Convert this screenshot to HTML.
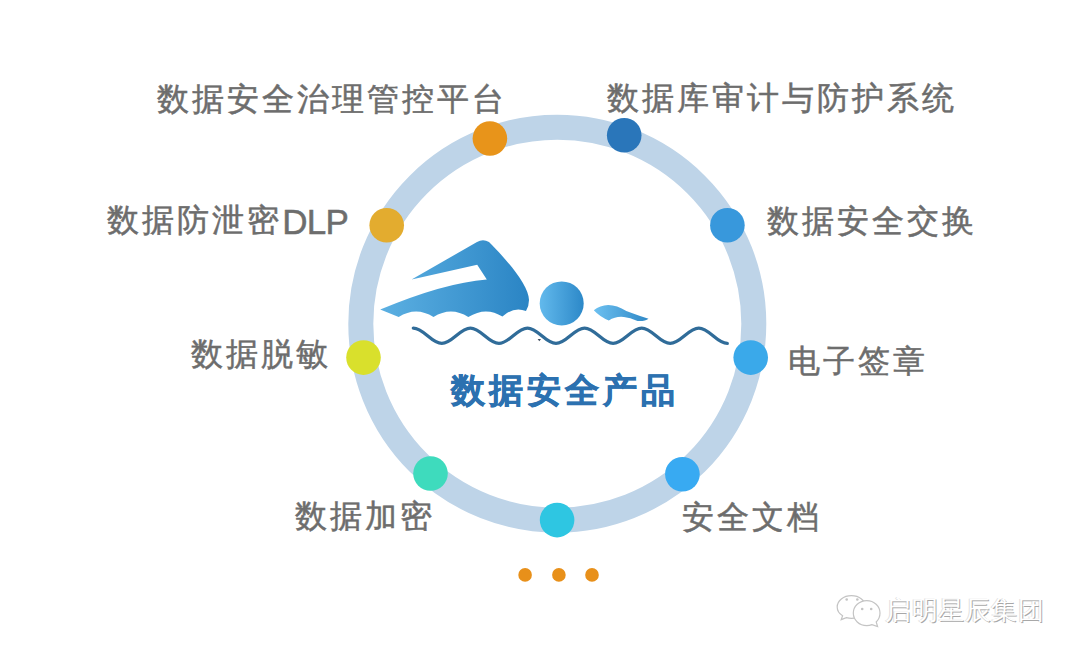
<!DOCTYPE html>
<html><head><meta charset="utf-8">
<style>
html,body{margin:0;padding:0;background:#fff;}
body{width:1080px;height:658px;position:relative;overflow:hidden;font-family:"Liberation Sans",sans-serif;}
.l{position:absolute;font-size:32px;line-height:32px;letter-spacing:3px;color:#6d6d6d;white-space:nowrap;-webkit-text-stroke:0.5px #6d6d6d;}
.c{position:absolute;font-size:34px;line-height:34px;font-weight:bold;letter-spacing:4px;color:#2c71b0;white-space:nowrap;-webkit-text-stroke:0.6px #2c71b0;}
svg{position:absolute;left:0;top:0;}
.wm{position:absolute;font-size:26px;line-height:26px;color:#fff;white-space:nowrap;text-shadow:1px 1px 0 #a8a8a8,-1px 0 0 #e0e0e0;}
</style></head><body>
<svg width="1080" height="658" viewBox="0 0 1080 658">
<defs>
<linearGradient id="g1" x1="380" y1="0" x2="530" y2="0" gradientUnits="userSpaceOnUse">
<stop offset="0" stop-color="#5cb0e2"/><stop offset="1" stop-color="#2a84c4"/>
</linearGradient>
<linearGradient id="g2" x1="540" y1="0" x2="584" y2="0" gradientUnits="userSpaceOnUse">
<stop offset="0" stop-color="#62b9ec"/><stop offset="1" stop-color="#2c88c8"/>
</linearGradient>
<linearGradient id="g3" x1="594" y1="0" x2="649" y2="0" gradientUnits="userSpaceOnUse">
<stop offset="0" stop-color="#6cc0f0"/><stop offset="1" stop-color="#2f88c6"/>
</linearGradient>
</defs>
<circle cx="557.3" cy="323.7" r="196.5" fill="none" stroke="#bed4e8" stroke-width="25"/>
<!-- swimmer -->
<path d="M411.6,279.5 L477,242 Q483,238.5 489,242 C506,259 529,285 529,300 Q529,306 526,311 Q514,306 502.4,316.6 Q486,306 468.3,317 Q451,306 433.5,317 Q416,306 398.7,317 L380.2,309.6 Q443.8,282.9 486.8,279.5 L477.2,264.8 Z" fill="url(#g1)"/>
<circle cx="561.7" cy="303.4" r="22" fill="url(#g2)"/>
<path d="M593.8,310.3 Q600,305 608.2,304.9 Q617,305 626.3,310.9 Q640,316 648.5,318.7 Q645,321.5 637.5,321 Q630,317.5 623.9,317  Q616,316 608.8,320.5 Q600,317 593.8,310.3 Z" fill="url(#g3)"/>
<path d="M413.3,328.1 C423.7,328.1 431.4,343.4 441.8,343.4 C452.2,343.4 460.0,328.1 470.4,328.1 C480.8,328.1 488.5,343.4 498.9,343.4 C509.3,343.4 517.1,328.1 527.5,328.1 C537.9,328.1 545.6,343.4 556.0,343.4 C566.4,343.4 574.2,328.1 584.6,328.1 C595.0,328.1 602.7,343.4 613.1,343.4 C623.5,343.4 631.3,328.1 641.7,328.1 C652.1,328.1 659.8,343.4 670.2,343.4 C680.6,343.4 688.4,328.1 698.8,328.1 C709.2,328.1 716.9,343.4 727.3,343.4" fill="none" stroke="#306c99" stroke-width="3.3" stroke-linecap="round"/>
<path d="M537.6,338.9 L541,338.9 L539.3,341.3 Z" fill="#3d4d5e"/>
<!-- dots -->
<circle cx="489.9" cy="138.5" r="17.3" fill="#e8941a"/>
<circle cx="624.2" cy="135.3" r="17.3" fill="#2a76ba"/>
<circle cx="727.4" cy="225.3" r="17.3" fill="#3898dc"/>
<circle cx="750.7" cy="357.6" r="17.3" fill="#3aa9ea"/>
<circle cx="682.4" cy="474.2" r="17.3" fill="#38aaf2"/>
<circle cx="557.1" cy="520.1" r="17.3" fill="#2ec6e2"/>
<circle cx="430.5" cy="473.5" r="17.3" fill="#3edbbd"/>
<circle cx="363.5" cy="357.6" r="17.3" fill="#d9e02c"/>
<circle cx="386.7" cy="225.3" r="17.3" fill="#e3ac2f"/>
<g fill="#fff" stroke="#c4c4c4" stroke-width="1.2">
<path d="M851.4,595.7 C843.5,595.7 837.2,600.8 837.2,607 C837.2,610.6 839.3,613.8 842.6,615.8 L841.2,619.6 L846.4,617.6 C848,618 849.7,618.3 851.4,618.3 C859.3,618.3 865.6,613.2 865.6,607 C865.6,600.8 859.3,595.7 851.4,595.7 Z"/>
<path d="M866.7,600.6 C859.3,600.6 853.3,606.2 853.3,613.1 C853.3,620 859.3,625.6 866.7,625.6 C868.6,625.6 870.4,625.2 872,624.6 L877.6,626.6 L876.2,622 C878.6,619.8 880,616.6 880,613.1 C880,606.2 874.1,600.6 866.7,600.6 Z"/>
</g>
<g fill="#c4c4c4"><circle cx="846.7" cy="599.5" r="1.3"/><circle cx="857.3" cy="599.5" r="1.3"/><circle cx="862.2" cy="609" r="1.3"/><circle cx="871.2" cy="609" r="1.3"/></g>
<!-- orange dots -->
<circle cx="525.1" cy="574.9" r="6.8" fill="#e8901a"/>
<circle cx="558.9" cy="574.9" r="6.8" fill="#e8901a"/>
<circle cx="592" cy="574.9" r="6.8" fill="#e8901a"/>
</svg>
<div class="l" style="left:157px;top:82.7px">数据安全治理管控平台</div>
<div class="l" style="left:607px;top:82px">数据库审计与防护系统</div>
<div class="l" style="left:106.5px;top:204.2px">数据防泄密</div>
<div class="l" style="left:282.3px;top:206px;font-size:35px;letter-spacing:-0.8px">DLP</div>
<div class="l" style="left:766.6px;top:205px">数据安全交换</div>
<div class="l" style="left:190.7px;top:338.3px">数据脱敏</div>
<div class="l" style="left:787.8px;top:345.2px">电子签章</div>
<div class="l" style="left:295.4px;top:500.3px">数据加密</div>
<div class="l" style="left:681.6px;top:500.8px">安全文档</div>
<div class="c" style="left:451px;top:372.7px">数据安全产品</div>
<div class="wm" style="left:885px;top:596.5px;letter-spacing:0.6px">启明星辰集团</div>
</body></html>
